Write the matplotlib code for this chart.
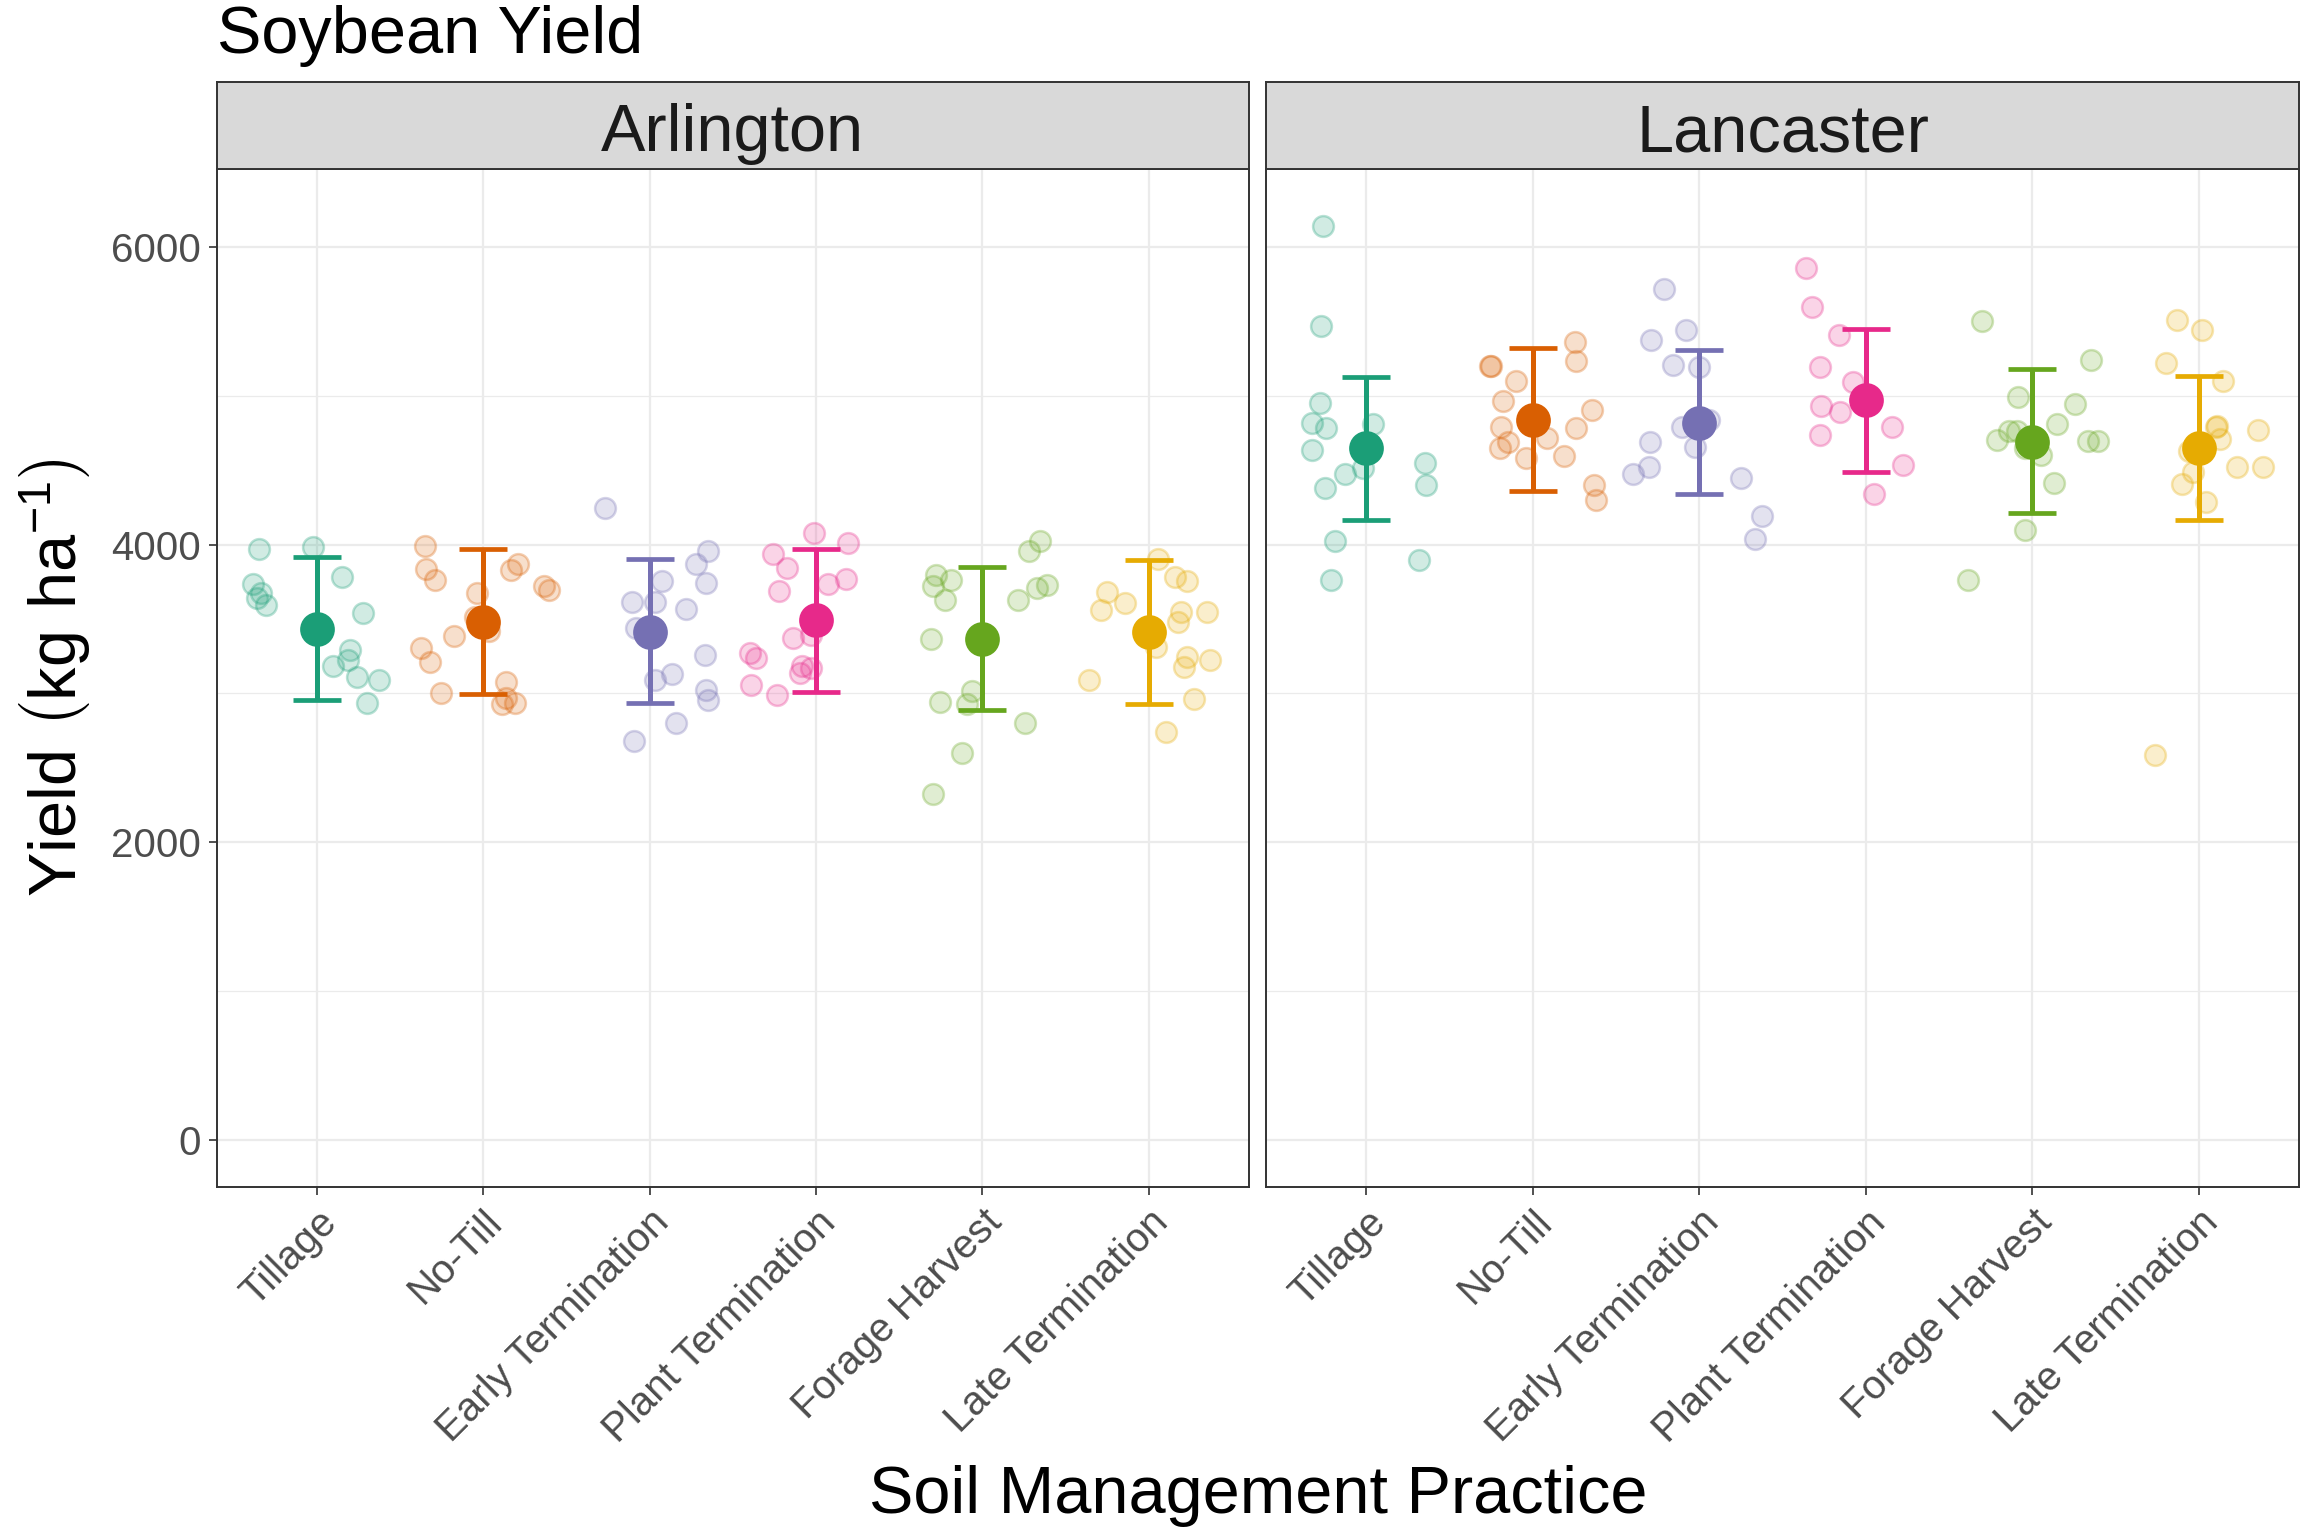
import matplotlib
matplotlib.use("Agg")
import matplotlib.pyplot as plt
from matplotlib.colors import to_rgba
import numpy as np

plt.rcParams['font.family'] = ['Liberation Sans', 'DejaVu Sans']
plt.rcParams['mathtext.fontset'] = 'custom'
plt.rcParams['mathtext.rm'] = 'Liberation Sans'
plt.rcParams['mathtext.default'] = 'regular'

# ---------------- data ----------------
treatments = ["Tillage", "No-Till", "Early Termination", "Plant Termination",
              "Forage Harvest", "Late Termination"]
sites = ["Arlington", "Lancaster"]
colors = ["#1B9E77", "#D95F02", "#7570B3", "#E7298A", "#66A61E", "#E6AB02"]

# Arlington observations (yield) and horizontal jitter (in category units)
arl_yield = [
    [3973, 3984, 3781, 3738, 3676, 3638, 3593, 3537, 3289, 3224, 3183, 3107, 3089, 2935],
    [3989, 3872, 3828, 3839, 3761, 3720, 3698, 3676, 3418, 3515, 3385, 3302, 3210, 3078, 3004, 2966, 2926, 2933],
    [4246, 3960, 3872, 3754, 3740, 3613, 3617, 3566, 3441, 3255, 3132, 3089, 3025, 2957, 2799, 2680],
    [4076, 4013, 3938, 3844, 3737, 3768, 3690, 3369, 3394, 3271, 3238, 3186, 3137, 3171, 3056, 2987],
    [4022, 3960, 3797, 3761, 3721, 3730, 3710, 3628, 3628, 3365, 3018, 2940, 2926, 2799, 2600, 2323],
    [3900, 3782, 3753, 3679, 3606, 3559, 3545, 3550, 3478, 3309, 3242, 3180, 3226, 3092, 2963, 2738],
]
arl_jitter = [
    [-0.346, -0.02, 0.152, -0.386, -0.334, -0.36, -0.308, 0.276, 0.2, 0.186, 0.096, 0.244, 0.376, 0.3],
    [-0.348, 0.212, 0.17, -0.346, -0.29, 0.364, 0.396, -0.04, 0.036, -0.05, -0.178, -0.372, -0.322, 0.138, -0.256, 0.14, 0.116, 0.192],
    [-0.268, 0.354, 0.278, 0.076, 0.34, -0.106, 0.03, 0.216, -0.08, 0.332, 0.132, 0.03, 0.34, 0.352, 0.158, -0.094],
    [-0.012, 0.194, -0.256, -0.171, 0.072, 0.178, -0.221, -0.138, -0.031, -0.396, -0.361, -0.083, -0.097, -0.027, -0.39, -0.235],
    [0.345, 0.279, -0.277, -0.186, -0.295, 0.386, 0.328, -0.225, 0.217, -0.31, -0.062, -0.256, -0.093, 0.256, -0.12, -0.297],
    [0.058, 0.157, 0.231, -0.248, -0.14, -0.287, 0.192, 0.353, 0.178, 0.047, 0.231, 0.21, 0.369, -0.357, 0.27, 0.107],
]
arl_mean = [3434, 3481, 3414, 3494, 3365, 3410]
arl_upper = [3915, 3973, 3904, 3973, 3851, 3895]
arl_lower = [2955, 2993, 2937, 3010, 2886, 2927]

# Lancaster observations
lan_yield = [
    [6139, 5470, 4950, 4818, 4782, 4807, 4637, 4514, 4471, 4382, 4545, 4402, 4022, 3895, 3765],
    [5359, 5233, 5200, 5200, 5099, 4965, 4907, 4787, 4782, 4715, 4690, 4646, 4581, 4597, 4398, 4302],
    [5718, 5439, 5372, 5209, 5191, 4838, 4791, 4688, 4655, 4523, 4472, 4447, 4194, 4038],
    [5859, 5596, 5408, 5193, 5095, 4934, 4892, 4787, 4735, 4532, 4342],
    [5502, 5240, 4992, 4941, 4811, 4760, 4760, 4704, 4699, 4693, 4648, 4603, 4411, 4101, 3765],
    [5508, 5441, 5220, 5097, 4798, 4791, 4771, 4708, 4630, 4523, 4523, 4487, 4409, 4284, 2586],
]
lan_jitter = [
    [-0.26, -0.268, -0.278, -0.322, -0.24, 0.042, -0.326, -0.016, -0.124, -0.248, 0.356, 0.36, -0.186, 0.318, -0.212],
    [0.254, 0.258, -0.25, -0.256, -0.098, -0.18, 0.356, -0.192, 0.258, 0.086, -0.146, -0.194, -0.038, 0.19, 0.366, 0.382],
    [-0.214, -0.082, -0.292, -0.156, 0.0, 0.06, -0.106, -0.298, -0.026, -0.3, -0.4, 0.25, 0.374, 0.336],
    [-0.358, -0.324, -0.158, -0.274, -0.076, -0.27, -0.156, 0.16, -0.274, 0.226, 0.052],
    [-0.304, 0.354, -0.088, 0.254, 0.146, -0.138, -0.092, -0.21, 0.336, 0.396, -0.042, 0.054, 0.13, -0.044, -0.388],
    [-0.132, 0.018, -0.198, 0.144, 0.108, 0.102, 0.356, 0.126, -0.06, 0.228, 0.382, -0.038, -0.104, 0.044, -0.264],
]
lan_mean = [4648, 4838, 4818, 4968, 4688, 4648]
lan_upper = [5128, 5323, 5305, 5450, 5178, 5133]
lan_lower = [4168, 4358, 4338, 4489, 4212, 4163]

yticks = [0, 2000, 4000, 6000]
minor_yticks = [1000, 3000, 5000]

# ---------------- figure ----------------
W, H, DPI = 2303, 1529, 200
fig = plt.figure(figsize=(W / DPI, H / DPI), dpi=DPI)
fig.patch.set_facecolor("white")

def px(x0, y0, x1, y1):
    return [x0 / W, 1 - y1 / H, (x1 - x0) / W, (y1 - y0) / H]

panel_px = [(217, 1248.5), (1266, 2299)]
plot_top, plot_bot, strip_top = 169, 1187, 82

site_data = [
    (arl_yield, arl_jitter, arl_mean, arl_lower, arl_upper),
    (lan_yield, lan_jitter, lan_mean, lan_lower, lan_upper),
]

border = "#333333"
gridc = "#EBEBEB"
tickc = "#4D4D4D"

for k, (site, (yl, jl, mn, lo, hi)) in enumerate(zip(sites, site_data)):
    x0, x1 = panel_px[k]
    ax = fig.add_axes(px(x0, plot_top, x1, plot_bot))
    pos = np.arange(1, len(treatments) + 1)
    for i in range(len(treatments)):
        xs = pos[i] + np.array(jl[i])
        ys = np.array(yl[i])
        ax.scatter(xs, ys, s=56, facecolor=to_rgba(colors[i], 0.2),
                   edgecolor=to_rgba(colors[i], 0.3), linewidth=0.9, zorder=3)
    for i in range(len(treatments)):
        ax.errorbar(pos[i], mn[i], yerr=[[mn[i] - lo[i]], [hi[i] - mn[i]]],
                    fmt="o", color=colors[i], markersize=11.5, elinewidth=1.8,
                    capsize=8.8, capthick=1.7, zorder=4)
    ax.set_xlim(0.4, 6.6)
    ax.set_ylim(-316, 6523)
    ax.set_xticks(pos)
    ax.set_xticklabels(treatments, rotation=45, ha="right", va="top",
                       rotation_mode="anchor", fontsize=14.5, color=tickc)
    ax.set_yticks(yticks)
    ax.set_yticks(minor_yticks, minor=True)
    ax.tick_params(axis="both", which="major", length=7.6 / DPI * 72, width=0.6,
                   color=border, pad=3)
    ax.tick_params(axis="y", which="minor", length=0)
    if k == 0:
        ax.set_yticklabels([str(v) for v in yticks], fontsize=14.5, color=tickc)
    else:
        ax.tick_params(axis="y", which="both", left=False, labelleft=False)
    ax.grid(True, which="major", color=gridc, linewidth=0.8, zorder=0)
    ax.grid(True, which="minor", axis="y", color=gridc, linewidth=0.45, zorder=0)
    ax.set_axisbelow(True)
    for sp in ax.spines.values():
        sp.set_color(border)
        sp.set_linewidth(0.7)
    # strip
    sax = fig.add_axes(px(x0, strip_top, x1, plot_top))
    sax.set_facecolor("#D9D9D9")
    sax.set_xticks([])
    sax.set_yticks([])
    for sp in sax.spines.values():
        sp.set_color(border)
        sp.set_linewidth(0.7)
    sax.text(0.5, 0.205, site, transform=sax.transAxes, ha="center",
             va="baseline", fontsize=24, color="#1A1A1A")

fig.text(217 / W, 1 - 53 / H, "Soybean Yield", ha="left", va="baseline",
         fontsize=24, color="black")
fig.text((217 + 2299) / 2 / W, 1 - 1513 / H, "Soil Management Practice",
         ha="center", va="baseline", fontsize=24, color="black")
fig.text(55 / W, 1 - 678 / H, r"$Yield\ \left(kg\ ha^{-1}\right)$", rotation=90,
         ha="center", va="center", fontsize=24, color="black")

fig.savefig("out.png", dpi=DPI)
